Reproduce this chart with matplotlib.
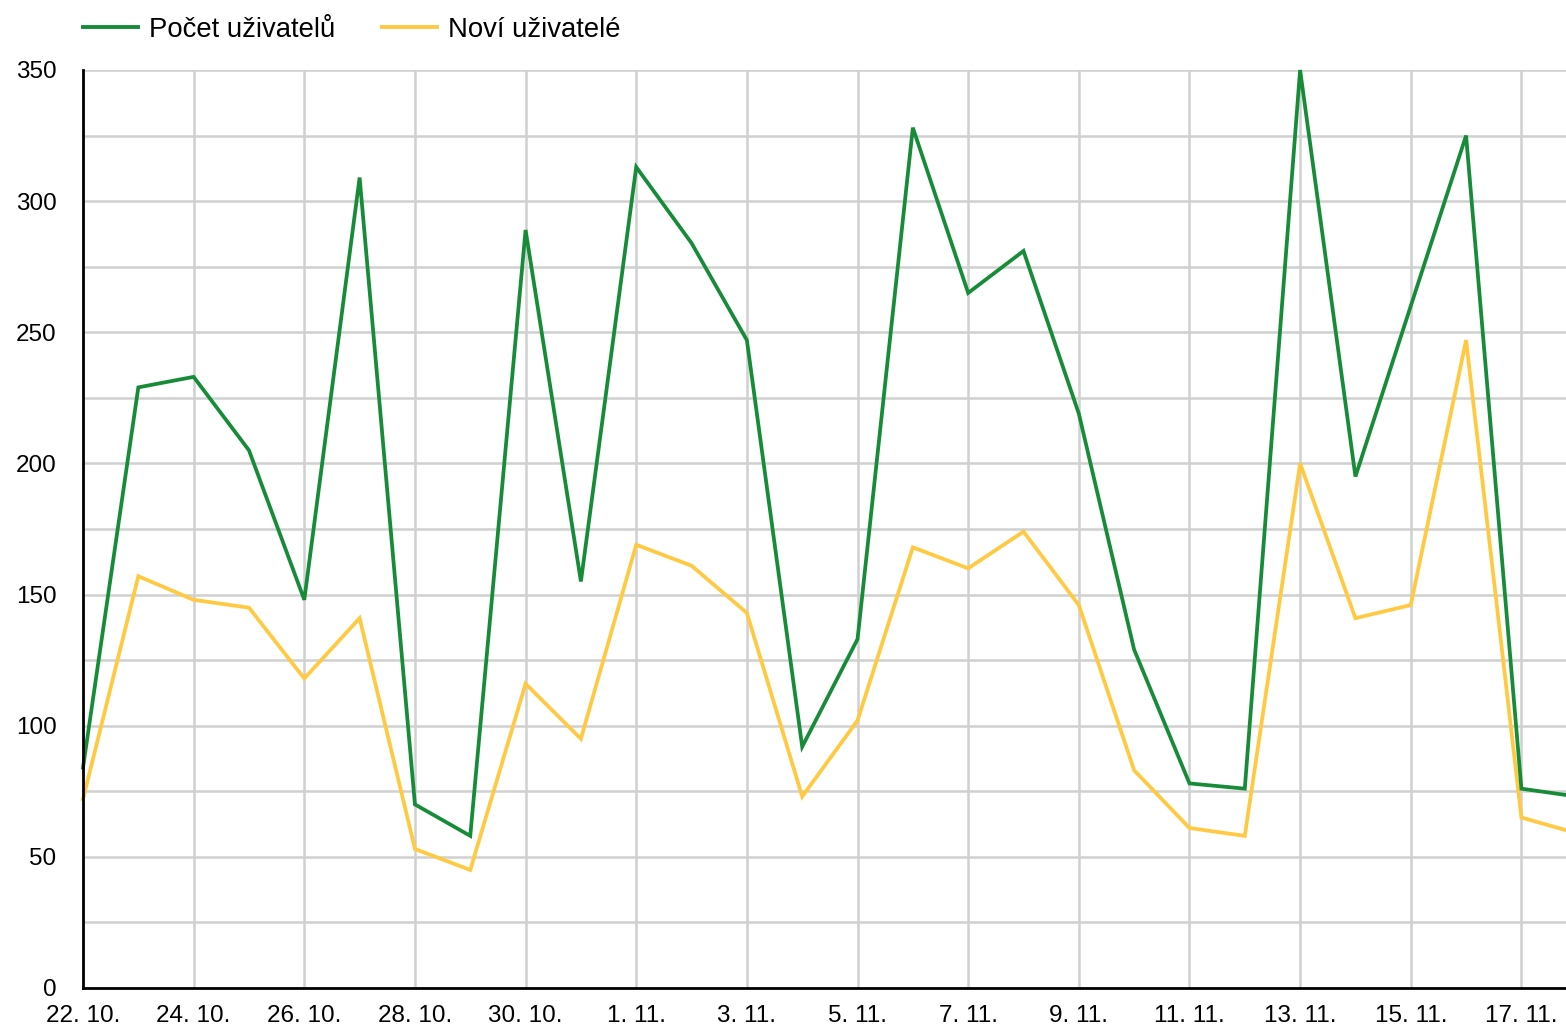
import matplotlib
matplotlib.use("Agg")
import matplotlib.pyplot as plt
from matplotlib.lines import Line2D
import numpy as np

plt.rcParams['font.family'] = ['Liberation Sans', 'DejaVu Sans']

dates = ["22. 10.", "23. 10.", "24. 10.", "25. 10.", "26. 10.", "27. 10.", "28. 10.",
         "29. 10.", "30. 10.", "31. 10.", "1. 11.", "2. 11.", "3. 11.", "4. 11.",
         "5. 11.", "6. 11.", "7. 11.", "8. 11.", "9. 11.", "10. 11.", "11. 11.",
         "12. 11.", "13. 11.", "14. 11.", "15. 11.", "16. 11.", "17. 11.", "18. 11."]

pocet_uzivatelu = [84, 229, 233, 205, 148, 309, 70, 58, 289, 155, 313, 284, 247, 92,
                   133, 328, 265, 281, 219, 129, 78, 76, 350, 195, 260, 325, 76, 73]
novi_uzivatele = [72, 157, 148, 145, 118, 141, 53, 45, 116, 95, 169, 161, 143, 73,
                  102, 168, 160, 174, 146, 83, 61, 58, 200, 141, 146, 247, 65, 59]

series_names = ["Počet uživatelů", "Noví uživatelé"]
colors = ["#178c38", "#ffc942"]

W, H = 1566, 1029
fig = plt.figure(figsize=(W / 100, H / 100), dpi=100)
ax = fig.add_axes([83 / W, 1 - 988 / H, 1 - 83 / W, (988 - 70) / H])

x = np.arange(len(dates))
ax.plot(x, pocet_uzivatelu, color=colors[0], lw=2.7, clip_on=False, zorder=4,
        solid_joinstyle='miter')
ax.plot(x, novi_uzivatele, color=colors[1], lw=2.7, clip_on=False, zorder=3,
        solid_joinstyle='miter')

ax.set_xlim(0, (1566 - 83) / ((1521.4 - 83) / 26))
ax.set_ylim(0, 350)

ax.set_xticks(x[::2])
ax.set_xticklabels(dates[::2])
ax.set_yticks(np.arange(0, 351, 50))
ax.set_yticks(np.arange(25, 350, 50), minor=True)

ax.grid(True, which='major', color='#d0d0d0', lw=1.8)
ax.grid(True, which='minor', axis='y', color='#d0d0d0', lw=1.8)
ax.set_axisbelow(True)

ax.tick_params(axis='both', which='both', length=0)
ax.tick_params(axis='y', labelsize=17.5, pad=19, colors='black')
ax.tick_params(axis='x', labelsize=17.5, pad=12, colors='black')

for s in ['top', 'right']:
    ax.spines[s].set_visible(False)
for s in ['left', 'bottom']:
    ax.spines[s].set_color('black')
    ax.spines[s].set_linewidth(2)
    ax.spines[s].set_zorder(5)

fs = 19.8
fpx = fs * 100 / 72
handles = [Line2D([], [], color=colors[0], lw=2.8), Line2D([], [], color=colors[1], lw=2.8)]
fig.legend(handles, series_names, loc='center left',
           bbox_to_anchor=(83 / W, 1 - 30 / H), frameon=False, ncol=2,
           fontsize=fs, borderpad=0, borderaxespad=0,
           handlelength=55 / fpx, handletextpad=11 / fpx, columnspacing=47 / fpx)

fig.savefig("out.png", dpi=100)
